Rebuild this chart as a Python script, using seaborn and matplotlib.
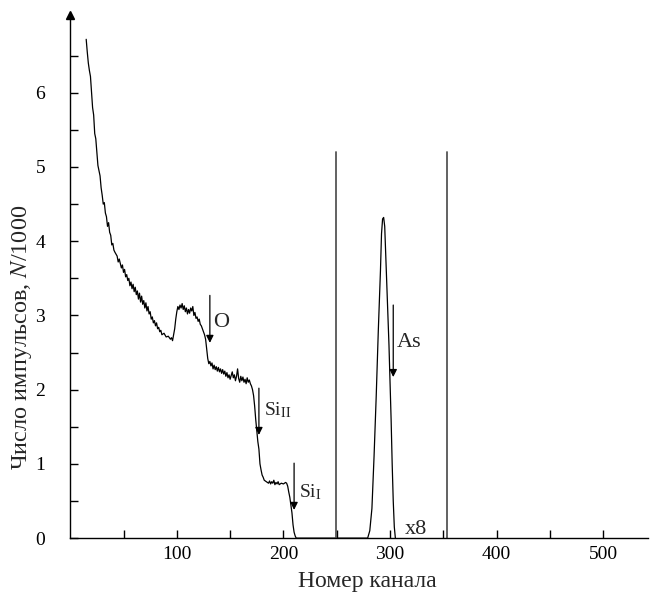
import matplotlib

matplotlib.use("Agg")
import matplotlib.pyplot as plt
import pandas as pd
import seaborn as sns

# RBS spectrum, counts in thousands
CHANNELS = [
    15, 16, 17, 18, 19, 20, 21, 22, 23, 24, 25, 26, 27, 28, 29, 30, 31, 32, 33, 34,
    35, 36, 37, 38, 39, 40, 41, 42, 44, 45, 46, 47, 48, 49, 50, 51, 52, 53, 54, 55,
    56, 57, 58, 59, 60, 61, 62, 63, 64, 65, 66, 67, 68, 69, 70, 71, 72, 73, 74, 75,
    76, 77, 78, 79, 80, 81, 82, 83, 84, 85, 86, 88, 90, 92, 94, 95, 96, 97, 98, 99,
    100, 101, 102, 103, 104, 105, 106, 107, 108, 109, 110, 111, 112, 113, 114, 115,
    116, 117, 118, 119, 120, 121, 122, 123, 124, 125, 126, 127, 128, 129, 130, 131,
    132, 133, 134, 135, 136, 137, 138, 139, 140, 141, 142, 143, 144, 145, 146, 147,
    148, 149, 150, 151, 152, 153, 154, 155, 156, 157, 158, 159, 160, 161, 162, 163,
    164, 165, 166, 167, 168, 169, 170, 171, 172, 173, 174, 175, 176, 177, 178, 179,
    180, 181, 182, 184, 186, 187, 188, 189, 190, 191, 192, 193, 194, 195, 196, 198,
    200, 202, 203, 204, 205, 206, 207, 208, 209, 210, 211, 212, 279,
]
COUNTS = [
    6.72, 6.55, 6.40, 6.30, 6.22, 6.02, 5.80, 5.70, 5.45, 5.38, 5.20, 5.02, 4.95, 4.88, 4.72, 4.62, 4.50, 4.52, 4.38, 4.33,
    4.20, 4.25, 4.12, 4.08, 3.95, 3.97, 3.88, 3.85, 3.80, 3.72, 3.76, 3.70, 3.64, 3.68, 3.58, 3.62, 3.52, 3.55, 3.47, 3.50,
    3.40, 3.45, 3.36, 3.42, 3.32, 3.38, 3.28, 3.33, 3.22, 3.30, 3.18, 3.26, 3.15, 3.20, 3.10, 3.17, 3.06, 3.12, 3.02, 3.05,
    2.95, 2.98, 2.90, 2.93, 2.86, 2.90, 2.82, 2.84, 2.78, 2.80, 2.74, 2.76, 2.71, 2.72, 2.68, 2.70, 2.66, 2.74, 2.82, 2.95,
    3.05, 3.12, 3.08, 3.14, 3.10, 3.16, 3.08, 3.13, 3.05, 3.10, 3.02, 3.08, 3.03, 3.10, 3.06, 3.12,
    3.00, 3.04, 2.96, 2.98, 2.92, 2.95, 2.88, 2.86, 2.82, 2.78, 2.74, 2.68, 2.55, 2.42, 2.35, 2.38,
    2.32, 2.36, 2.28, 2.33, 2.27, 2.31, 2.25, 2.30, 2.24, 2.28, 2.22, 2.27, 2.21, 2.25, 2.18, 2.23,
    2.16, 2.20, 2.14, 2.19, 2.24, 2.16, 2.20, 2.12, 2.18, 2.28, 2.15, 2.10, 2.18, 2.12, 2.17, 2.10,
    2.14, 2.08, 2.16, 2.10, 2.13, 2.08, 2.05, 2.00, 1.92, 1.78, 1.60, 1.45, 1.30, 1.20, 1.00, 0.92,
    0.85, 0.82, 0.78, 0.76, 0.74, 0.77, 0.73, 0.76, 0.74, 0.78, 0.72, 0.75, 0.73, 0.76, 0.72, 0.74,
    0.73, 0.75, 0.74, 0.70, 0.62, 0.55, 0.45, 0.34, 0.18, 0.08, 0.03, 0.00, 0.00,
]
# As peak (magnified x8)
PEAK_CHANNELS = [279, 281, 283, 285, 287, 289, 291, 292, 293, 294, 295, 296, 297, 298, 299, 300, 301, 302, 303, 304, 305]
PEAK_COUNTS = [0.0, 0.1, 0.4, 1.1, 1.9, 2.8, 3.6, 4.1, 4.3, 4.32, 4.2, 3.8, 3.4, 3.0, 2.6, 2.1, 1.6, 1.0, 0.5, 0.15, 0.0]

WINDOW = [249, 353]
WINDOW_TOP = 5.2

EDGE_LABELS = ["O", r"Si$_{\rm II}$", r"Si$_{\rm I}$", "As"]
EDGE_X = [131, 177, 210, 303]
EDGE_Y_START = [3.27, 2.02, 1.01, 3.14]
EDGE_Y_END = [2.63, 1.39, 0.38, 2.17]
EDGE_TEXT_X = [134, 182, 215, 306]
EDGE_TEXT_Y = [2.9, 1.72, 0.62, 2.64]

sns.set_style("ticks")
plt.rcParams["font.family"] = ["Liberation Serif", "DejaVu Serif"]
plt.rcParams["mathtext.fontset"] = "stix"

spectrum = pd.DataFrame({"channel": CHANNELS + PEAK_CHANNELS, "counts": COUNTS + PEAK_COUNTS})

fig = plt.figure(figsize=(6.5, 5.92), dpi=100)
ax = fig.add_axes([0.108, 0.091, 0.889, 0.884])

sns.lineplot(data=spectrum, x="channel", y="counts", color="black", linewidth=0.9,
             estimator=None, sort=False, ax=ax)

for xv in WINDOW:
    ax.plot([xv, xv], [0, WINDOW_TOP], color="#555555", linewidth=1.3)

for label, xv, y0, y1, tx, ty in zip(EDGE_LABELS, EDGE_X, EDGE_Y_START, EDGE_Y_END,
                                     EDGE_TEXT_X, EDGE_TEXT_Y):
    size = 14 if label.startswith("Si") else 16
    ax.annotate("", xy=(xv, y1), xytext=(xv, y0),
                arrowprops=dict(arrowstyle="-|>", color="black", lw=0.9, mutation_scale=11,
                                shrinkA=0, shrinkB=0))
    ax.text(tx, ty, label, fontsize=size, ha="left", va="center")

ax.text(314, 0.11, "x8", fontsize=16, ha="left", va="center")

ax.set_xlim(0, 542)
ax.set_ylim(0, 7.05)
ax.set_xticks([50, 100, 150, 200, 250, 300, 350, 400, 450, 500])
ax.set_xticklabels(["", "100", "", "200", "", "300", "", "400", "", "500"])
ax.set_yticks([0, 0.5, 1, 1.5, 2, 2.5, 3, 3.5, 4, 4.5, 5, 5.5, 6, 6.5])
ax.set_yticklabels(["0", "", "1", "", "2", "", "3", "", "4", "", "5", "", "6", ""])
ax.tick_params(axis="both", direction="in", length=6, width=1, labelsize=14, colors="black")
ax.tick_params(axis="y", pad=18)
ax.tick_params(axis="x", pad=6)

ax.set_xlabel("Номер канала", fontsize=17)
ax.xaxis.set_label_coords(0.514, -0.063)
ax.set_ylabel("Число импульсов, $N$/1000", fontsize=17.5)
ax.yaxis.set_label_coords(-0.063, 0.384)

sns.despine(ax=ax)
for side in ("left", "bottom"):
    ax.spines[side].set_color("black")
    ax.spines[side].set_linewidth(1.0)
ax.plot([0], [1], marker="^", color="black", markersize=6, transform=ax.transAxes, clip_on=False)

fig.savefig("out.png", dpi=100)
